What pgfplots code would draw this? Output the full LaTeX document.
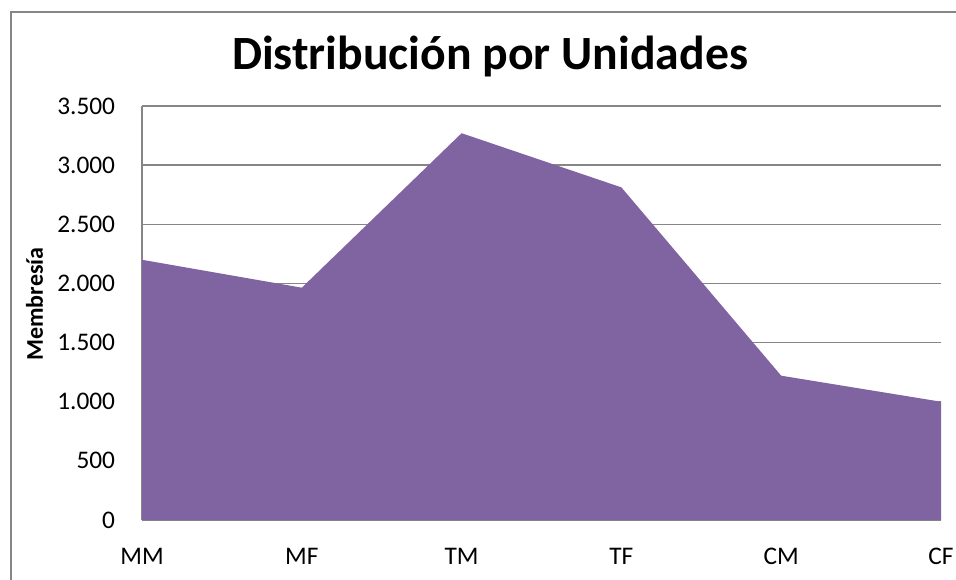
\documentclass[border=0pt]{standalone}
\usepackage{pgfplots}
\pgfplotsset{compat=1.18}
\usepackage{fontspec}
\setmainfont{Carlito}

\definecolor{areapurple}{HTML}{8064A2}
\definecolor{gridgray}{HTML}{868686}

\begin{document}
\begin{tikzpicture}
% page = 956x579 px at 0.75pt per px, plot area origin at (142px,520px)
\useasboundingbox (-106.5pt,-44.25pt) rectangle (610.5pt,390pt);
\draw[gridgray, line width=1.1pt] (-98.25pt,-50pt) -- (-98.25pt,381pt) -- (620pt,381pt);

\begin{axis}[
    at={(0,0)}, anchor=south west,
    scale only axis,
    width=599.25pt, height=310.5pt,
    xmin=0, xmax=5, ymin=0, ymax=3500,
    xtick={0,...,5},
    xticklabels={MM, MF, TM, TF, CM, CF},
    ytick={0,500,...,3500},
    axis x line*=bottom, axis y line*=left,
    axis line style={gridgray, line width=1.1pt, -},
    major tick length=0pt,
    ymajorgrids,
    grid style={gridgray, line width=1.1pt},
    tick label style={font=\fontsize{19}{23}\selectfont},
    xticklabel style={inner sep=0pt, anchor=north, yshift=-21pt},
    yticklabel style={inner sep=0pt, anchor=east, xshift=-20pt},
    /pgf/number format/.cd, 1000 sep={.}, assume math mode=true,
]
\addplot[fill=areapurple, draw=none] coordinates {
    (0,2200) (1,1964) (2,3270) (3,2812) (4,1220) (5,1000)
} \closedcycle;
\end{axis}

\node[anchor=base, inner sep=0pt, font=\fontsize{35.8}{43}\selectfont\bfseries]
    at (261pt,337.5pt) {Distribución por Unidades};
\node[rotate=90, inner sep=0pt, font=\fontsize{18}{22}\selectfont\bfseries]
    at (-80.6pt,162pt) {Membresía};
\end{tikzpicture}
\end{document}
